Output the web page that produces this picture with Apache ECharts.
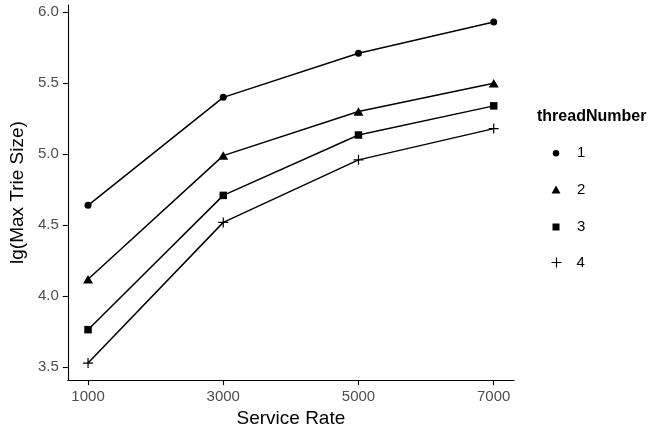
<!DOCTYPE html>
<html>
<head>
<meta charset="utf-8">
<script src="https://cdn.jsdelivr.net/npm/echarts@6/dist/echarts.min.js"></script>
<style>
  html, body { margin: 0; padding: 0; background: #fff; }
  #chart { width: 668px; height: 433px; }
</style>
</head>
<body>
<div id="chart"></div>
<script>
// Service rates on the x axis
const serviceRates = [1000, 3000, 5000, 7000];
// lg(max trie size) for each thread count
const thread1 = [4.64, 5.40, 5.71, 5.93];
const thread2 = [4.12, 4.99, 5.30, 5.50];
const thread3 = [3.765, 4.71, 5.135, 5.34];
const thread4 = [3.53, 4.52, 4.96, 5.18];
const seriesNames = ['1', '2', '3', '4'];
const yTicks = [3.5, 4.0, 4.5, 5.0, 5.5, 6.0];

const PLUS = 'path://M0,5L10,5M5,0L5,10';
const symbols = ['circle', 'triangle', 'rect', PLUS];
const symbolSizes = [7, [10, 8.5], 7.5, 10];
const values = [thread1, thread2, thread3, thread4];

const font = 'Liberation Sans, Arial, Helvetica, sans-serif';

const series = values.map((vals, i) => ({
  name: seriesNames[i],
  type: 'line',
  data: vals.map((v, j) => [serviceRates[j], v]),
  symbol: symbols[i],
  symbolSize: symbolSizes[i],
  showSymbol: true,
  lineStyle: { color: '#000', width: 1.5 },
  itemStyle: i === 3
    ? { color: 'none', borderColor: '#000', borderWidth: 1.2 }
    : { color: '#000', borderWidth: 0 },
  emphasis: { disabled: true },
  animation: false,
  z: 3
}));

// one legend block per series so each key can keep its own symbol size
const legendIconW = [6.5, 9, 7, 10];
const legendIconH = [6.5, 8, 7, 10];
const legendShift = [0, 0, 0, -2];
const legends = seriesNames.map((n, i) => ({
  orient: 'vertical',
  left: 556 - legendIconW[i] / 2 + legendShift[i],
  top: 150 + i * 37 - legendIconH[i] / 2 - 1,
  padding: 0,
  itemWidth: legendIconW[i],
  itemHeight: legendIconH[i],
  selectedMode: false,
  data: [{
    name: n,
    icon: symbols[i],
    itemStyle: i === 3
      ? { color: 'none', borderColor: '#000', borderWidth: 1.2 }
      : { color: '#000', borderWidth: 0 }
  }],
  textStyle: {
    fontFamily: font, fontSize: 15, color: '#000',
    padding: [0, 0, 0, 16 - legendIconW[i] / 2 - legendShift[i] - (i === 3 ? 3 : 0)]
  }
}));

const chart = echarts.init(document.getElementById('chart'), null, { renderer: 'canvas' });
chart.setOption({
  backgroundColor: '#fff',
  animation: false,
  title: {
    text: 'threadNumber',
    left: 537,
    top: 109,
    padding: 0,
    textStyle: { fontFamily: font, fontSize: 16, fontWeight: 'bold', color: '#000' }
  },
  legend: legends,
  grid: { left: 67, right: 154, top: 5, bottom: 50, containLabel: false },
  xAxis: {
    type: 'value',
    min: 700,
    max: 7300,
    name: 'Service Rate',
    nameLocation: 'middle',
    nameGap: 28,
    nameTextStyle: { fontFamily: font, fontSize: 19, color: '#000', verticalAlign: 'top' },
    axisLine: { show: true, onZero: false, lineStyle: { color: '#000', width: 1.1 } },
    axisTick: { show: true, length: 5, lineStyle: { color: '#000', width: 1.1 }, customValues: serviceRates },
    axisLabel: {
      fontFamily: font, fontSize: 15, color: '#4d4d4d', margin: 9,
      customValues: serviceRates,
      formatter: v => String(v)
    },
    splitLine: { show: false }
  },
  yAxis: {
    type: 'value',
    min: 3.41,
    max: 6.05,
    name: 'lg(Max Trie Size)',
    nameLocation: 'middle',
    nameGap: 35,
    nameTextStyle: { fontFamily: font, fontSize: 19, color: '#000' },
    axisLine: { show: true, onZero: false, lineStyle: { color: '#000', width: 1.1 } },
    axisTick: { show: true, length: 5, lineStyle: { color: '#000', width: 1.1 }, customValues: yTicks },
    axisLabel: {
      fontFamily: font, fontSize: 15, color: '#4d4d4d', margin: 9,
      customValues: yTicks,
      formatter: v => v.toFixed(1)
    },
    splitLine: { show: false }
  },
  series: series
});
</script>
</body>
</html>
